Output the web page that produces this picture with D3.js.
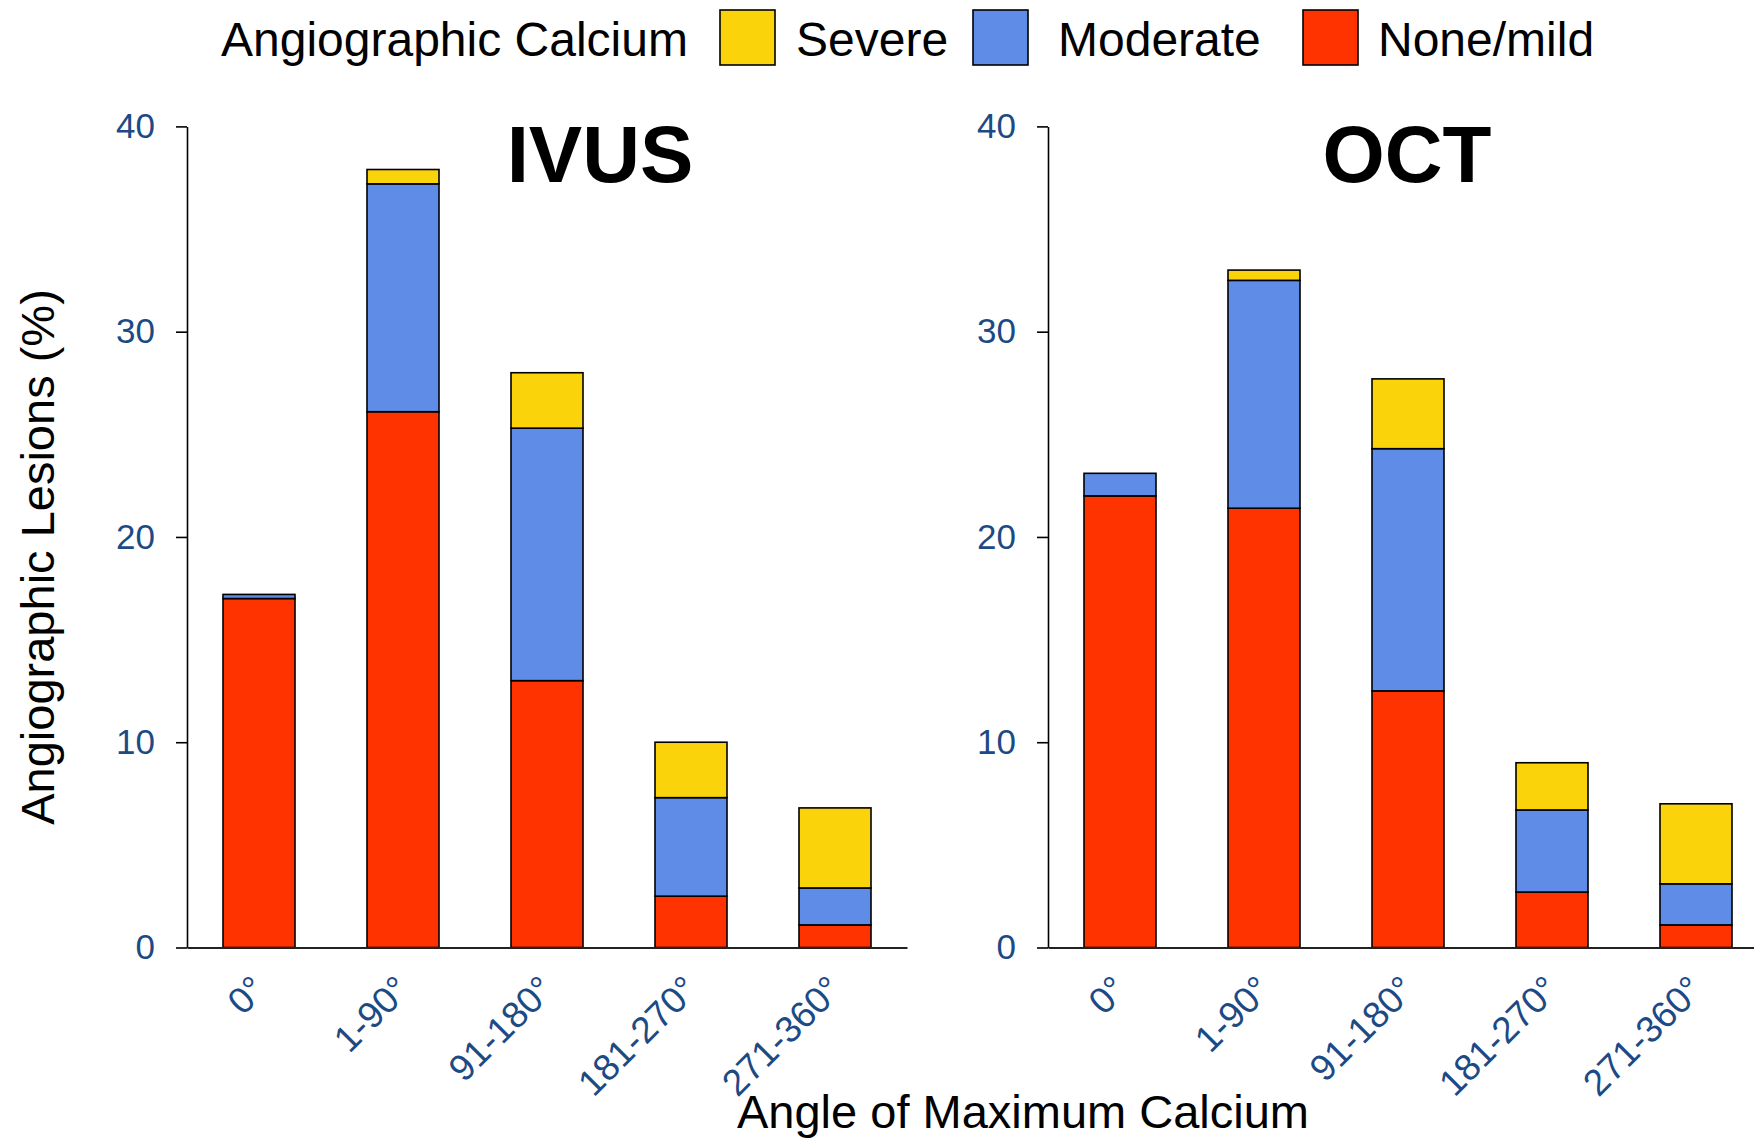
<!DOCTYPE html>
<html>
<head>
<meta charset="utf-8">
<script src="https://cdn.jsdelivr.net/npm/d3@7"></script>
<style>
    body { margin: 0; background: #ffffff; }
    svg { display: block; font-family: "Liberation Sans", Arial, sans-serif; }
    .tick text { fill: #1c4a85; }
</style>
</head>
<body>
<svg id="chart" width="1754" height="1139"></svg>
<script>
// Data (% of angiographic lesions)
const categories = ['0°', '1-90°', '91-180°', '181-270°', '271-360°'];
const severityKeys = ['none', 'moderate', 'severe'];
const legendLabels = ['Severe', 'Moderate', 'None/mild'];
const yTicks = [0, 10, 20, 30, 40];

const ivusNone = [17.0, 26.1, 13.0, 2.5, 1.1];
const ivusModerate = [0.2, 11.1, 12.3, 4.8, 1.8];
const ivusSevere = [0, 0.7, 2.7, 2.7, 3.9];

const octNone = [22.0, 21.4, 12.5, 2.7, 1.1];
const octModerate = [1.1, 11.1, 11.8, 4.0, 2.0];
const octSevere = [0, 0.5, 3.4, 2.3, 3.9];

const colors = { none: '#ff3300', moderate: '#5e8ce6', severe: '#fbd30b' };

const svg = d3.select('#chart');

const y = d3.scaleLinear().domain([0, 40]).range([947.5, 126.4]);

const buildRows = (none, moderate, severe) =>
    categories.map((c, i) => ({ cat: c, none: none[i], moderate: moderate[i], severe: severe[i] }));

const panels = [
    { title: 'IVUS', left: 187, right: 907, titleX: 600, rows: buildRows(ivusNone, ivusModerate, ivusSevere) },
    { title: 'OCT', left: 1048, right: 1768, titleX: 1407, rows: buildRows(octNone, octModerate, octSevere) }
];

const stack = d3.stack().keys(severityKeys);

panels.forEach(p => {
    const x = d3.scaleBand()
        .domain(categories)
        .range([p.left, p.right])
        .paddingInner(0.5)
        .paddingOuter(0.25);

    const g = svg.append('g');

    // stacked bars
    const layers = g.selectAll('.layer')
        .data(stack(p.rows))
        .enter()
        .append('g')
        .attr('fill', d => colors[d.key]);

    layers.selectAll('rect')
        .data(d => d.filter(s => s[1] - s[0] > 0))
        .enter()
        .append('rect')
        .attr('x', d => x(d.data.cat))
        .attr('width', x.bandwidth())
        .attr('y', d => y(d[1]))
        .attr('height', d => y(d[0]) - y(d[1]))
        .attr('stroke', '#000')
        .attr('stroke-width', 1.6);

    // y axis
    const yAxis = g.append('g')
        .attr('transform', `translate(${p.left},0)`)
        .call(d3.axisLeft(y).tickValues(yTicks).tickSize(11).tickPadding(21).tickSizeOuter(0));
    yAxis.select('.domain').attr('stroke', '#000').attr('stroke-width', 1.6);
    yAxis.selectAll('.tick line').attr('stroke', '#000').attr('stroke-width', 1.6);
    yAxis.selectAll('.tick text').attr('font-size', 35);

    // x axis
    const xAxis = g.append('g')
        .attr('transform', `translate(0,${y(0)})`)
        .call(d3.axisBottom(x).tickSize(0).tickSizeOuter(0).tickPadding(0));
    xAxis.select('.domain').attr('stroke', '#222').attr('stroke-width', 2);
    xAxis.selectAll('.tick text')
        .attr('font-size', 37)
        .attr('text-anchor', 'end')
        .attr('dy', 0)
        .attr('transform', 'translate(9,44) rotate(-45)');

    // panel title
    g.append('text')
        .attr('x', p.titleX)
        .attr('y', 182)
        .attr('text-anchor', 'middle')
        .attr('font-size', 80)
        .attr('font-weight', 'bold')
        .attr('fill', '#000')
        .text(p.title);
});

// axis titles
svg.append('text')
    .attr('transform', 'translate(54,557) rotate(-90)')
    .attr('text-anchor', 'middle')
    .attr('font-size', 47)
    .attr('fill', '#000')
    .text('Angiographic Lesions (%)');

svg.append('text')
    .attr('x', 1023)
    .attr('y', 1128)
    .attr('text-anchor', 'middle')
    .attr('font-size', 47)
    .attr('fill', '#000')
    .text('Angle of Maximum Calcium');

// legend
const legend = svg.append('g').attr('class', 'legend');
legend.append('text')
    .attr('x', 221)
    .attr('y', 56)
    .attr('font-size', 48)
    .attr('fill', '#000')
    .text('Angiographic Calcium');

const legendKeys = ['severe', 'moderate', 'none'];
const legendX = [720, 973, 1303];
const legendTextX = [76, 85, 75];

const items = legend.selectAll('.legend-item')
    .data(legendKeys)
    .enter()
    .append('g')
    .attr('transform', (d, i) => `translate(${legendX[i]},10)`);

items.append('rect')
    .attr('width', 55)
    .attr('height', 55)
    .attr('fill', d => colors[d])
    .attr('stroke', '#000')
    .attr('stroke-width', 1.6);

items.append('text')
    .attr('x', (d, i) => legendTextX[i])
    .attr('y', 46)
    .attr('font-size', 48)
    .attr('fill', '#000')
    .text((d, i) => legendLabels[i]);
</script>
</body>
</html>
